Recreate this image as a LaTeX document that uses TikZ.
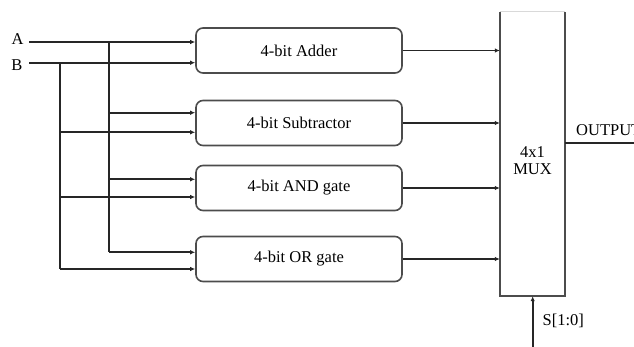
\documentclass[tikz,border=0pt]{standalone}
\usepackage{fontspec}
\setmainfont{Liberation Serif}
\usetikzlibrary{arrows.meta}
\begin{document}
\begin{tikzpicture}[x=1pt,y=-1pt,
  wire/.style={line width=1.7pt,draw=black!85},
  arr/.style={wire,-{Latex[length=5pt,width=4.5pt]}},
  unit/.style={draw=black!70,line width=1.6pt,rounded corners=7pt,
    minimum width=206pt,minimum height=45pt,inner sep=0pt,
    font=\fontsize{16.5}{19}\selectfont},
  lbl/.style={inner sep=0pt,font=\fontsize{16.5}{19}\selectfont}]
\useasboundingbox (0,0) rectangle (634,347);

% inputs
\node[lbl] (A) at (17.5,39) {A};
\node[lbl] (B) at (17,65) {B};
\coordinate (a0) at (29,42);
\coordinate (b0) at (29,62.7);
\coordinate (abus) at (109,42);
\coordinate (bbus) at (60,62.7);

% functional units
\node[unit] (add) at (299,50.5) {4-bit Adder};
\node[unit] (sub) at (299,123) {4-bit Subtractor};
\node[unit] (and) at (299,188) {4-bit AND gate};
\node[unit] (or)  at (299,259) {4-bit OR gate};

% multiplexer (its top edge lies at the upper border)
\node[inner sep=0pt,minimum width=65pt,minimum height=284pt] (mux) at (532.5,154) {};
\draw[draw=black!15,line width=0.6pt] (mux.north west) -- (mux.north east);
\draw[draw=black!70,line width=1.6pt] (mux.north west) -- (mux.south west)
  -- (mux.south east) -- (mux.north east);
\node[lbl,align=center,font=\fontsize{16.5}{17}\selectfont] (muxt) at (532.5,161) {4x1\\MUX};

% taps on the A and B buses
\coordinate (ta2) at (109,112.7);
\coordinate (ta3) at (109,179.3);
\coordinate (ta4) at (109,252.3);
\coordinate (tb2) at (60,132.3);
\coordinate (tb3) at (60,197);
\coordinate (tb4) at (60,269);

% A bus
\draw[arr] (a0) -- (add.west |- a0);
\draw[wire] (abus) -- (ta4);
\draw[arr] (ta2) -- (sub.west |- ta2);
\draw[arr] (ta3) -- (and.west |- ta3);
\draw[arr] (ta4) -- (or.west |- ta4);

% B bus
\draw[arr] (b0) -- (add.west |- b0);
\draw[wire] (bbus) -- (tb4);
\draw[arr] (tb2) -- (sub.west |- tb2);
\draw[arr] (tb3) -- (and.west |- tb3);
\draw[arr] (tb4) -- (or.west |- tb4);

% unit outputs into the multiplexer
\draw[arr] (add.east) -- (mux.west |- add.east);
\draw[arr] (sub.east) -- (mux.west |- sub.east);
\draw[arr] (and.east) -- (mux.west |- and.east);
\draw[arr] (or.east) -- (mux.west |- or.east);

% output
\coordinate (oend) at (640,143);
\draw[wire] (mux.east |- oend) -- (oend);
\node[lbl,anchor=west] (out) at (576,130) {OUTPUT};

% select lines
\coordinate (sel) at (532.7,350);
\draw[arr] (sel) -- (mux.south -| sel);
\node[lbl,anchor=west] (selt) at (542.5,321) {S[1:0]};
\end{tikzpicture}
\end{document}
